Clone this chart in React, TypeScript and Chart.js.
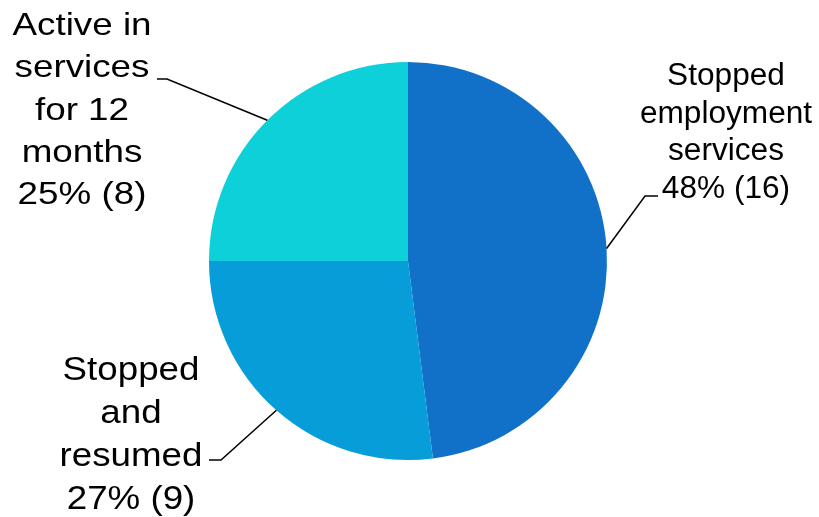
import React, { useEffect, useRef } from "react";
import { Chart, registerables } from "chart.js";

Chart.register(...registerables);

const categories = ["Stopped employment services", "Stopped and resumed", "Active in services for 12 months"];
const counts = [16, 9, 8];
const percents = [48, 27, 25];
const labelLines = [
  ["Stopped", "employment", "services", `${percents[0]}% (${counts[0]})`],
  ["Stopped", "and", "resumed", `${percents[1]}% (${counts[1]})`],
  ["Active in", "services", "for 12", "months", `${percents[2]}% (${counts[2]})`],
];
const colors = ["#1170C7", "#069DD8", "#0ED0D9"];

// label layout: text centre x, first baseline, line height, font px, horizontal scale, elbow point, end point
const layout = [
  { cx: 726, y0: 85, lh: 37.6, size: 31, sx: 1.02, elbow: [645, 196], end: [658, 196] },
  { cx: 131, y0: 380, lh: 43, size: 34, sx: 1.08, elbow: [221, 460], end: [209, 460] },
  { cx: 82, y0: 35, lh: 42.3, size: 32, sx: 1.15, elbow: [167, 79], end: [157, 79] },
];

const labelPlugin = {
  id: "outerLabels",
  afterDraw(chart: any) {
    const ctx = chart.ctx;
    const meta = chart.getDatasetMeta(0);
    ctx.save();
    meta.data.forEach((arc: any, i: number) => {
      const L = layout[i];
      const mid = (arc.startAngle + arc.endAngle) / 2;
      const ax = arc.x + Math.cos(mid) * arc.outerRadius;
      const ay = arc.y + Math.sin(mid) * arc.outerRadius;
      ctx.beginPath();
      ctx.strokeStyle = "#000";
      ctx.lineWidth = 1.5;
      ctx.moveTo(ax, ay);
      ctx.lineTo(L.elbow[0], L.elbow[1]);
      ctx.lineTo(L.end[0], L.end[1]);
      ctx.stroke();
      ctx.fillStyle = "#000";
      ctx.textAlign = "center";
      ctx.textBaseline = "alphabetic";
      ctx.font = `${L.size}px "Liberation Sans", Arial, sans-serif`;
      labelLines[i].forEach((line: string, j: number) => {
        ctx.save();
        ctx.translate(L.cx, L.y0 + j * L.lh);
        ctx.scale(L.sx, 1);
        ctx.fillText(line, 0, 0);
        ctx.restore();
      });
    });
    ctx.restore();
  },
};

export default function App() {
  const ref = useRef<HTMLCanvasElement>(null);
  useEffect(() => {
    document.body.style.margin = "0";
    const chart = new Chart(ref.current!, {
      type: "pie",
      data: {
        labels: categories,
        datasets: [
          {
            data: percents,
            backgroundColor: colors,
            borderWidth: 0,
          },
        ],
      },
      options: {
        animation: false,
        responsive: false,
        maintainAspectRatio: false,
        layout: { padding: { top: 62, bottom: 57, left: 209, right: 212 } },
        plugins: {
          legend: { display: false },
          tooltip: { enabled: false },
        },
      },
      plugins: [labelPlugin],
    });
    return () => chart.destroy();
  }, []);
  return (
    <div style={{ width: 819, height: 517 }}>
      <canvas ref={ref} width={819} height={517} />
    </div>
  );
}
